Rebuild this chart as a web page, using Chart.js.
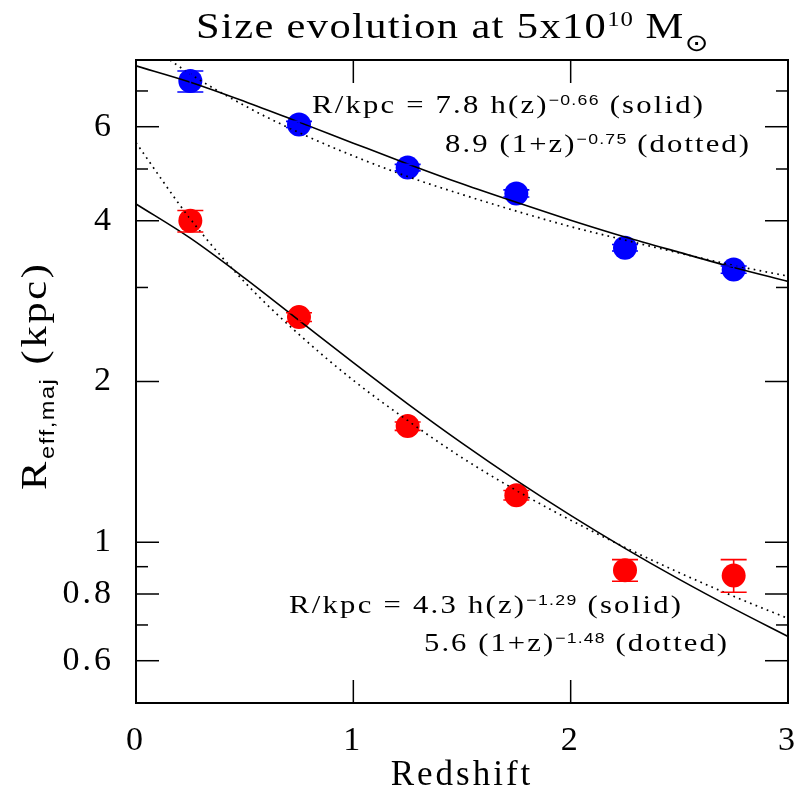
<!DOCTYPE html>
<html>
<head>
<meta charset="utf-8">
<script src="https://cdn.jsdelivr.net/npm/chart.js@4.4.0/dist/chart.umd.min.js"></script>
<style>
    html, body { margin: 0; padding: 0; background: #fff; }
    #wrap { width: 801px; height: 797px; }
</style>
</head>
<body>
<div id="wrap"><canvas id="sizeChart" width="801" height="797"></canvas></div>
<script>
// measured points (kpc) at each redshift bin
var redshift = [0.25, 0.75, 1.25, 1.75, 2.25, 2.75];
var blueSize = [7.31, 6.06, 5.03, 4.50, 3.56, 3.24];
var blueErrLo = [6.97, 5.98, 4.96, 4.43, 3.51, 3.19];
var blueErrHi = [7.63, 6.14, 5.10, 4.57, 3.61, 3.29];
var redSize = [4.00, 2.64, 1.65, 1.225, 0.886, 0.866];
var redErrLo = [3.81, 2.59, 1.62, 1.20, 0.845, 0.806];
var redErrHi = [4.18, 2.69, 1.68, 1.25, 0.928, 0.928];

// fit curves, every 0.25 in z
var fitZ = [0, 0.25, 0.5, 0.75, 1, 1.25, 1.5, 1.75, 2, 2.25, 2.5, 2.75, 3];
var blueSolidFit = [7.80, 7.27, 6.69, 6.12, 5.59, 5.11, 4.69, 4.33, 4.01, 3.73, 3.49, 3.27, 3.08];
var blueDottedFit = [8.90, 7.53, 6.57, 5.85, 5.29, 4.84, 4.48, 4.17, 3.90, 3.68, 3.48, 3.30, 3.15];
var redSolidFit = [4.30, 3.710, 3.124, 2.603, 2.169, 1.816, 1.533, 1.306, 1.123, 0.974, 0.852, 0.751, 0.666];
var redDottedFit = [5.60, 4.03, 3.07, 2.45, 2.01, 1.69, 1.44, 1.25, 1.10, 0.978, 0.877, 0.792, 0.720];

// axis ticks
var xTickValues = [0, 1, 2, 3];
var yTickLabels = [0.6, 0.8, 1, 2, 4, 6];
var yMinorTicks = [0.7, 0.9, 3, 5, 7];

var SERIF = '"Liberation Serif", "DejaVu Serif", serif';
var SANS = '"Liberation Sans", "DejaVu Sans", sans-serif';
var STRETCH = 1.18;

function toXY(xs, ys) {
    return xs.map(function (x, i) {
        return {x: x, y: ys[i]};
    });
}

function fitLine(ys, dotted) {
    return {
        data: toXY(fitZ, ys),
        showLine: true,
        borderColor: '#000',
        borderWidth: dotted ? 1.7 : 1.6,
        borderDash: dotted ? [1.7, 4.3] : [],
        pointRadius: 0,
        cubicInterpolationMode: 'monotone',
        clip: 0
    };
}

function pointSet(ys, colour) {
    return {
        data: toXY(redshift, ys),
        showLine: false,
        pointRadius: 12,
        pointBackgroundColor: colour,
        pointBorderWidth: 0,
        clip: false
    };
}

// wide, letter-spaced text with super/subscripts, fitted to a target width
function drawRich(ctx, parts, x, y, target) {
    var w = 0, weight = 0, big = 0;
    parts.forEach(function (p) { big = Math.max(big, p.size); });
    parts.forEach(function (p) {
        ctx.font = p.size + 'px ' + (p.family || SERIF);
        for (var i = 0; i < p.t.length; i++) {
            w += ctx.measureText(p.t[i]).width * STRETCH;
            weight += p.size / big;
        }
    });
    var ls = target ? (target - w) / Math.max(1, weight - 1) : 0;
    var cx = x;
    parts.forEach(function (p) {
        ctx.font = p.size + 'px ' + (p.family || SERIF);
        for (var i = 0; i < p.t.length; i++) {
            ctx.save();
            ctx.translate(cx, y + (p.dy || 0));
            ctx.scale(STRETCH, 1);
            ctx.fillText(p.t[i], 0, 0);
            ctx.restore();
            cx += ctx.measureText(p.t[i]).width * STRETCH + ls * p.size / big;
        }
    });
}

var spacing = {
    id: 'spacing',
    beforeLayout: function (chart) { chart.ctx.letterSpacing = '3px'; },
    beforeDraw: function (chart) { chart.ctx.letterSpacing = '3px'; }
};

var errorBars = {
    id: 'errorBars',
    afterDatasetsDraw: function (chart) {
        var ctx = chart.ctx, xs = chart.scales.x, ys = chart.scales.y;
        function bars(lo, hi, colour) {
            ctx.strokeStyle = colour;
            ctx.lineWidth = 1.6;
            redshift.forEach(function (z, i) {
                var px = xs.getPixelForValue(z);
                var top = ys.getPixelForValue(hi[i]), bot = ys.getPixelForValue(lo[i]);
                ctx.beginPath();
                ctx.moveTo(px, top); ctx.lineTo(px, bot);
                ctx.moveTo(px - 13, top); ctx.lineTo(px + 13, top);
                ctx.moveTo(px - 13, bot); ctx.lineTo(px + 13, bot);
                ctx.stroke();
            });
        }
        ctx.save();
        bars(blueErrLo, blueErrHi, '#0000ff');
        bars(redErrLo, redErrHi, '#ff0000');
        ctx.restore();
    }
};

var frameTicks = {
    id: 'frameTicks',
    afterDatasetsDraw: function (chart) {
        var ctx = chart.ctx, a = chart.chartArea, xs = chart.scales.x, ys = chart.scales.y;
        function seg(x1, y1, x2, y2) {
            ctx.beginPath(); ctx.moveTo(x1, y1); ctx.lineTo(x2, y2); ctx.stroke();
        }
        ctx.save();
        ctx.strokeStyle = '#000';
        ctx.lineWidth = 1.5;
        xTickValues.forEach(function (v) {
            var px = xs.getPixelForValue(v);
            seg(px, a.bottom, px, a.bottom - 23);
            seg(px, a.top, px, a.top + 23);
        });
        yTickLabels.forEach(function (v) {
            var py = ys.getPixelForValue(v);
            seg(a.left, py, a.left + 23, py);
            seg(a.right, py, a.right - 23, py);
        });
        yMinorTicks.forEach(function (v) {
            var py = ys.getPixelForValue(v);
            seg(a.left, py, a.left + 12, py);
            seg(a.right, py, a.right - 12, py);
        });
        ctx.lineWidth = 2;
        ctx.strokeRect(a.left, a.top, a.right - a.left, a.bottom - a.top);
        ctx.restore();
    }
};

var labels = {
    id: 'labels',
    afterDraw: function (chart) {
        var ctx = chart.ctx;
        ctx.save();
        ctx.letterSpacing = '0px';
        ctx.fillStyle = '#000';
        ctx.textBaseline = 'alphabetic';
        ctx.textAlign = 'left';

        drawRich(ctx, [
            {t: 'Size evolution at 5x10', size: 36},
            {t: '10', size: 21, dy: -12},
            {t: ' M', size: 36},
            {t: '\u2299', size: 24, dy: 13, family: '"DejaVu Sans", sans-serif'}
        ], 196, 38, 512);

        ctx.save();
        ctx.translate(46, 490);
        ctx.rotate(-Math.PI / 2);
        drawRich(ctx, [
            {t: 'R', size: 36},
            {t: 'eff,maj', size: 20, dy: 8, family: SANS},
            {t: ' (kpc)', size: 36}
        ], 0, 0, 226);
        ctx.restore();

        drawRich(ctx, [
            {t: 'R/kpc = 7.8 h(z)', size: 26},
            {t: '\u22120.66', size: 15, dy: -8, family: SANS},
            {t: ' (solid)', size: 26}
        ], 312, 113, 391);
        drawRich(ctx, [
            {t: '8.9 (1+z)', size: 26},
            {t: '\u22120.75', size: 15, dy: -8, family: SANS},
            {t: ' (dotted)', size: 26}
        ], 445, 152, 304);
        drawRich(ctx, [
            {t: 'R/kpc = 4.3 h(z)', size: 26},
            {t: '\u22121.29', size: 15, dy: -8, family: SANS},
            {t: ' (solid)', size: 26}
        ], 289, 613, 392);
        drawRich(ctx, [
            {t: '5.6 (1+z)', size: 26},
            {t: '\u22121.48', size: 15, dy: -8, family: SANS},
            {t: ' (dotted)', size: 26}
        ], 424, 651, 303);
        ctx.restore();
    }
};

var chart = new Chart(document.getElementById('sizeChart').getContext('2d'), {
    type: 'scatter',
    data: {
        datasets: [
            fitLine(blueSolidFit, false),
            fitLine(blueDottedFit, true),
            fitLine(redSolidFit, false),
            fitLine(redDottedFit, true),
            pointSet(blueSize, '#0000ff'),
            pointSet(redSize, '#ff0000')
        ]
    },
    options: {
        responsive: false,
        devicePixelRatio: 1,
        animation: false,
        events: [],
        layout: {padding: {top: 60, right: 13, left: 0, bottom: 0}},
        plugins: {
            legend: {display: false},
            tooltip: {enabled: false}
        },
        scales: {
            x: {
                type: 'linear',
                min: 0,
                max: 3,
                grid: {display: false},
                border: {display: false},
                afterBuildTicks: function (scale) {
                    scale.ticks = xTickValues.map(function (v) { return {value: v}; });
                },
                afterFit: function (scale) {
                    scale.height = 94;
                    scale.paddingLeft = 0;
                    scale.paddingRight = 0;
                },
                ticks: {
                    color: '#000',
                    padding: 10,
                    maxRotation: 0,
                    font: {family: SERIF, size: 34}
                },
                title: {
                    display: true,
                    text: 'Redshift',
                    color: '#000',
                    padding: {top: 0, bottom: 0},
                    font: {family: SERIF, size: 35}
                }
            },
            y: {
                type: 'logarithmic',
                min: 0.5,
                max: 8,
                grid: {display: false},
                border: {display: false},
                afterBuildTicks: function (scale) {
                    scale.ticks = yTickLabels.map(function (v) { return {value: v}; });
                },
                afterFit: function (scale) {
                    scale.width = 136;
                    scale.paddingTop = 0;
                    scale.paddingBottom = 0;
                },
                ticks: {
                    color: '#000',
                    padding: 14,
                    autoSkip: false,
                    font: {family: SERIF, size: 34},
                    callback: function (value) { return String(value); }
                }
            }
        }
    },
    plugins: [spacing, errorBars, frameTicks, labels]
});
</script>
</body>
</html>
